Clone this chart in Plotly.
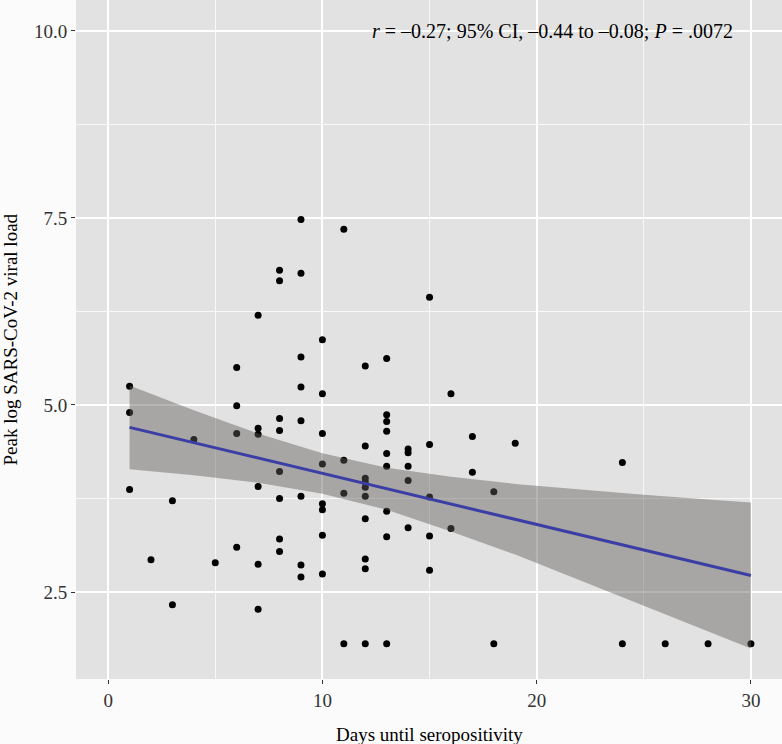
import plotly.graph_objects as go

# ---- data ----
days = [1, 1, 1,
        2,
        3, 3,
        4,
        5,
        6, 6, 6, 6,
        7, 7, 7, 7, 7, 7,
        8, 8, 8, 8, 8, 8, 8, 8,
        9, 9, 9, 9, 9, 9, 9, 9,
        10, 10, 10, 10, 10, 10, 10, 10,
        11, 11, 11, 11,
        12, 12, 12, 12, 12, 12, 12, 12, 12, 12,
        13, 13, 13, 13, 13, 13, 13, 13, 13,
        14, 14, 14, 14, 14,
        15, 15, 15, 15, 15,
        16, 16,
        17, 17,
        18, 18,
        19,
        24, 24,
        26,
        28,
        30]
viral_load = [5.25, 4.90, 3.87,
              2.93,
              3.72, 2.33,
              4.54,
              2.89,
              5.50, 4.99, 4.62, 3.10,
              6.20, 4.69, 4.61, 3.91, 2.87, 2.27,
              6.80, 6.66, 4.82, 4.66, 4.11, 3.75, 3.21, 3.04,
              7.48, 6.76, 5.64, 5.24, 4.79, 3.78, 2.86, 2.70,
              5.87, 5.15, 4.62, 4.21, 3.68, 3.60, 3.26, 2.74,
              7.35, 4.26, 3.82, 1.81,
              5.52, 4.45, 4.02, 3.97, 3.90, 3.78, 3.48, 2.94, 2.81, 1.81,
              5.62, 4.87, 4.78, 4.65, 4.35, 4.18, 3.58, 3.24, 1.81,
              4.41, 4.36, 4.18, 3.99, 3.36,
              6.44, 4.47, 3.77, 3.25, 2.79,
              5.15, 3.35,
              4.58, 4.10,
              3.84, 1.81,
              4.49,
              4.23, 1.81,
              1.81,
              1.81,
              1.81]

# fitted line and 95% band
fit_x = [1, 4, 7, 10, 13, 16, 19, 22, 25, 28, 30]
fit_y = [4.70, 4.495, 4.29, 4.085, 3.88, 3.675, 3.47, 3.265, 3.06, 2.855, 2.72]
ci_upper = [5.26, 4.93, 4.62, 4.355, 4.16, 4.04, 3.945, 3.87, 3.80, 3.735, 3.695]
ci_lower = [4.14, 4.06, 3.96, 3.815, 3.60, 3.31, 3.00, 2.66, 2.32, 1.975, 1.745]

x_ticks = [0, 10, 20, 30]
y_ticks = [2.5, 5.0, 7.5, 10.0]
y_tick_labels = ["2.5", "5.0", "7.5", "10.0"]

annotation_text = "<i>r</i> = \u20130.27; 95% CI, \u20130.44 to \u20130.08; <i>P</i> = .0072"
x_title = "Days until seropositivity"
y_title = "Peak log SARS-CoV-2 viral load"

FONT = "Liberation Serif"

fig = go.Figure()

fig.add_trace(go.Scatter(
    x=days, y=viral_load, mode="markers",
    marker=dict(color="black", size=7, line=dict(width=0)),
    showlegend=False, hoverinfo="x+y"))

fig.add_trace(go.Scatter(
    x=fit_x + fit_x[::-1], y=ci_upper + ci_lower[::-1],
    fill="toself", fillcolor="rgba(98,94,92,0.45)",
    line=dict(width=0), mode="lines", showlegend=False, hoverinfo="skip"))

fig.add_trace(go.Scatter(
    x=fit_x, y=fit_y, mode="lines",
    line=dict(color="#3B3FA5", width=3),
    showlegend=False))

fig.add_annotation(
    x=20.75, y=10.0, xref="x", yref="y", text=annotation_text,
    showarrow=False, font=dict(family=FONT, size=20, color="black"),
    xanchor="center", yanchor="middle")

# axis titles as paper annotations for exact placement
fig.add_annotation(
    x=0.5, y=0, xref="paper", yref="paper", yshift=-55,
    text=x_title, showarrow=False,
    font=dict(family=FONT, size=19, color="black"),
    xanchor="center", yanchor="middle")
fig.add_annotation(
    x=0, y=0.5, xref="paper", yref="paper", xshift=-66,
    text=y_title, showarrow=False, textangle=-90,
    font=dict(family=FONT, size=19, color="black"),
    xanchor="center", yanchor="middle")

axis_common = dict(
    automargin=False,
    showgrid=True, gridcolor="white", gridwidth=1.6,
    zeroline=False, showline=False,
    ticks="outside", ticklen=4, tickwidth=1.2, tickcolor="#333333",
    tickfont=dict(family=FONT, size=19, color="#333333"),
    minor=dict(showgrid=True, gridcolor="rgba(255,255,255,0.75)", gridwidth=0.8),
)

fig.update_xaxes(
    range=[-1.5, 31.45], tickvals=x_ticks, ticktext=[str(v) for v in x_ticks],
    minor_dtick=5, minor_tick0=5,
    **axis_common)
fig.update_yaxes(
    range=[1.3375, 10.4125], tickvals=y_ticks, ticktext=y_tick_labels,
    minor_dtick=2.5, minor_tick0=1.25,
    **axis_common)

fig.update_layout(
    width=782, height=744,
    margin=dict(l=76, r=0, t=0, b=65),
    plot_bgcolor="#E2E2E2", paper_bgcolor="#FBFBFB",
    font=dict(family=FONT),
)

fig.write_html(
    "out.html",
    config={"displayModeBar": False},
    post_script="document.body.style.margin='0px';document.body.style.background='#FBFBFB';",
)
